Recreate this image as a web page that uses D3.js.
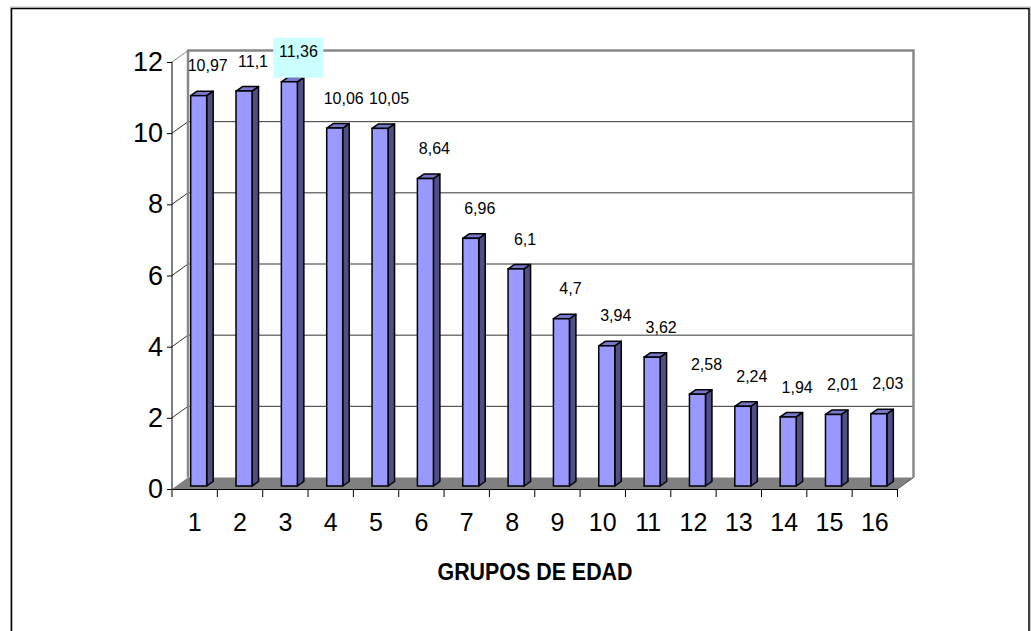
<!DOCTYPE html>
<html>
<head>
    <meta charset="utf-8">
    <script src="https://d3js.org/d3.v7.min.js"></script>
    <style>
        body { margin: 0; background: #fff; }
        text { font-family: "Liberation Sans", Arial, sans-serif; }
    </style>
</head>
<body>
<script>

    // data
    var groups = ['1','2','3','4','5','6','7','8','9','10','11','12','13','14','15','16'];
    var values = [10.97, 11.1, 11.36, 10.06, 10.05, 8.64, 6.96, 6.1, 4.7, 3.94, 3.62, 2.58, 2.24, 1.94, 2.01, 2.03];
    var yTicks = [0, 2, 4, 6, 8, 10, 12];
    var xTitle = 'GRUPOS DE EDAD';
    var highlighted = 2; // the label drawn on a cyan box

    var width = 1031;
    var height = 631;

    // depth of the 3D box and of the bars
    var depthX = 16, depthY = -11.5;
    var barShiftX = 4, barShiftY = -3;
    var barDepthX = 6.5, barDepthY = -4.5;
    var barW = 16;

    var xScale = d3.scaleBand()
        .domain(groups)
        .range([172, 897.5])
        .paddingInner(0)
        .paddingOuter(0);

    var yScale = d3.scaleLinear()
        .domain([0, 12])
        .range([489, 62]);

    var svg = d3.select('body').append('svg')
        .attr('width', width)
        .attr('height', height);

    svg.append('rect')
        .attr('width', width).attr('height', height)
        .attr('fill', '#fff');

    // chart area border
    svg.append('rect')
        .attr('x', 10.5).attr('y', 7)
        .attr('width', 1020).attr('height', 700)
        .attr('fill', 'none').attr('stroke', '#c8c8c8').attr('stroke-width', 1);
    svg.append('rect')
        .attr('x', 11.5).attr('y', 8.5)
        .attr('width', 1017.5).attr('height', 700)
        .attr('fill', 'none').attr('stroke', '#000').attr('stroke-width', 1.5);

    var x0 = xScale.range()[0], x1 = xScale.range()[1];
    var yBottom = yScale(0), yTop = yScale(12);

    // floor
    svg.append('polygon')
        .attr('points', [[x0, yBottom], [x1, yBottom], [x1 + depthX, yBottom + depthY], [x0 + depthX, yBottom + depthY]].join(' '))
        .attr('fill', '#808080');
    svg.append('line')
        .attr('x1', x1).attr('y1', yBottom)
        .attr('x2', x1 + depthX).attr('y2', yBottom + depthY)
        .attr('stroke', '#555').attr('stroke-width', 1);

    // gridlines on the back wall and side wall
    var grid = svg.append('g');
    grid.selectAll('line.back').data(yTicks.filter(function(t) { return t > 0 && t < 12; }))
        .enter().append('line')
        .attr('class', 'back')
        .attr('x1', x0 + depthX).attr('x2', x1 + depthX)
        .attr('y1', function(d) { return yScale(d) + depthY; })
        .attr('y2', function(d) { return yScale(d) + depthY; })
        .attr('stroke', '#333').attr('stroke-width', 1);
    grid.selectAll('line.side').data(yTicks.filter(function(t) { return t > 0; }))
        .enter().append('line')
        .attr('class', 'side')
        .attr('x1', x0).attr('x2', x0 + depthX)
        .attr('y1', function(d) { return yScale(d); })
        .attr('y2', function(d) { return yScale(d) + depthY; })
        .attr('stroke', function(d) { return d === 12 ? '#888' : '#333'; })
        .attr('stroke-width', 1);

    // back wall outline (gray)
    svg.append('path')
        .attr('d', 'M' + (x0 + depthX) + ',' + (yBottom + depthY) +
            'V' + (yTop + depthY) +
            'H' + (x1 + depthX) +
            'V' + (yBottom + depthY))
        .attr('fill', 'none').attr('stroke', '#888').attr('stroke-width', 2.5);

    // y axis
    var yAxis = d3.axisLeft(yScale)
        .tickValues(yTicks)
        .tickSize(5)
        .tickPadding(4);
    var gY = svg.append('g')
        .attr('transform', 'translate(' + x0 + ',0)')
        .call(yAxis);
    gY.select('.domain').attr('stroke', '#000').attr('d', 'M0,' + yBottom + 'V' + yTop);
    gY.selectAll('.tick line').attr('stroke', '#000');
    gY.selectAll('.tick text')
        .attr('font-family', '"Liberation Sans", Arial, sans-serif')
        .attr('font-size', 27)
        .attr('fill', '#000');

    // x axis: labels at band centres, ticks at band edges
    var xAxis = d3.axisBottom(xScale)
        .tickSize(0)
        .tickPadding(24);
    var gX = svg.append('g')
        .attr('transform', 'translate(0,' + yBottom + ')')
        .call(xAxis);
    gX.select('.domain').attr('stroke', '#000');
    gX.selectAll('.tick text')
        .attr('font-family', '"Liberation Sans", Arial, sans-serif')
        .attr('font-size', 25)
        .attr('fill', '#000');
    var edges = groups.map(function(g) { return xScale(g); }).concat([x1]);
    gX.selectAll('line.edge').data(edges)
        .enter().append('line')
        .attr('class', 'edge')
        .attr('x1', function(d) { return d; }).attr('x2', function(d) { return d; })
        .attr('y1', 0).attr('y2', 8)
        .attr('stroke', '#000');

    svg.append('text')
        .attr('x', 535).attr('y', 580)
        .attr('text-anchor', 'middle')
        .attr('font-size', 24)
        .attr('font-weight', 'bold')
        .attr('textLength', 195)
        .attr('lengthAdjust', 'spacingAndGlyphs')
        .text(xTitle);

    // 3D bars
    var bars = svg.append('g').selectAll('g.bar')
        .data(values.map(function(v, i) { return {g: groups[i], v: v, i: i}; }))
        .enter().append('g').attr('class', 'bar');

    function barLeft(d) { return xScale(d.g) + xScale.bandwidth() / 2 - barW / 2 + barShiftX; }
    function barTop(d) { return yScale(d.v) + barShiftY; }
    var barBase = yBottom + barShiftY;

    bars.append('polygon')
        .attr('points', function(d) {
            var l = barLeft(d) + barW, t = barTop(d);
            return [[l, t], [l + barDepthX, t + barDepthY], [l + barDepthX, barBase + barDepthY], [l, barBase]].join(' ');
        })
        .attr('fill', '#4f4f85').attr('stroke', '#000').attr('stroke-width', 1.5).attr('stroke-linejoin', 'round');
    bars.append('polygon')
        .attr('points', function(d) {
            var l = barLeft(d), t = barTop(d);
            return [[l, t], [l + barDepthX, t + barDepthY], [l + barW + barDepthX, t + barDepthY], [l + barW, t]].join(' ');
        })
        .attr('fill', '#7777cc').attr('stroke', '#000').attr('stroke-width', 1.5).attr('stroke-linejoin', 'round');
    bars.append('rect')
        .attr('x', barLeft)
        .attr('y', barTop)
        .attr('width', barW)
        .attr('height', function(d) { return barBase - barTop(d); })
        .attr('fill', '#9999ff').attr('stroke', '#000').attr('stroke-width', 1.5);

    // data labels
    var labels = svg.append('g').selectAll('g.lbl')
        .data(values.map(function(v, i) { return {g: groups[i], v: v, i: i}; }))
        .enter().append('g').attr('class', 'lbl')
        .attr('transform', function(d) {
            return 'translate(' + (barLeft(d) + barW / 2 + 9) + ',' + (barTop(d) - 30) + ')';
        });
    labels.filter(function(d) { return d.i === highlighted; })
        .append('rect')
        .attr('x', -25).attr('y', -14)
        .attr('width', 50).attr('height', 40)
        .attr('fill', '#ccffff');
    labels.append('text')
        .attr('text-anchor', 'middle')
        .attr('dy', '0.35em')
        .attr('font-size', 16)
        .attr('fill', '#000')
        .text(function(d) { return String(d.v).replace('.', ','); });

</script>
</body>
</html>
